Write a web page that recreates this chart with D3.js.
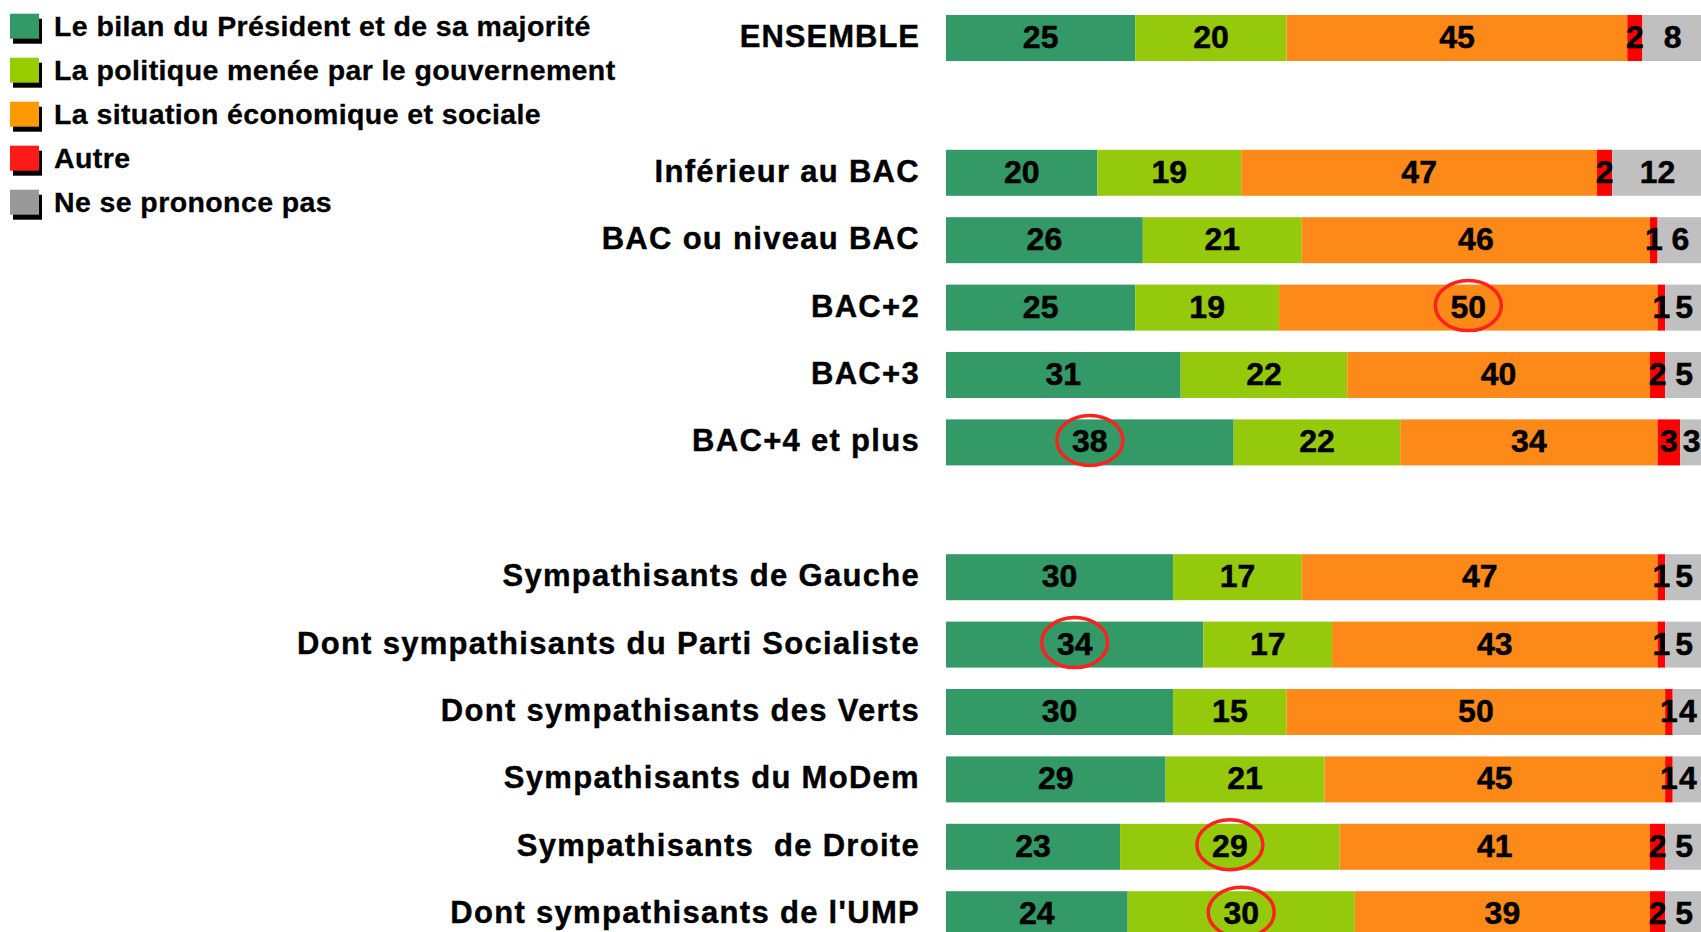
<!DOCTYPE html>
<html>
<head>
<meta charset="utf-8">
<script src="https://cdn.jsdelivr.net/npm/d3@7"></script>
<style>
  html, body { margin: 0; padding: 0; background: #ffffff; overflow: hidden; }
  svg { display: block; font-family: "Liberation Sans", Arial, sans-serif; font-weight: bold; }
  text { white-space: pre; }
</style>
</head>
<body>
<svg id="chart" width="1701" height="932"></svg>
<script>
// ---- data ----
const seriesNames = [
  "Le bilan du Président et de sa majorité",
  "La politique menée par le gouvernement",
  "La situation économique et sociale",
  "Autre",
  "Ne se prononce pas"
];
// row slots (blank strings are spacer rows)
const rowSlots = [
  "ENSEMBLE", "",
  "Inférieur au BAC", "BAC ou niveau BAC", "BAC+2", "BAC+3", "BAC+4 et plus", " ",
  "Sympathisants de Gauche", "Dont sympathisants du Parti Socialiste",
  "Dont sympathisants des Verts", "Sympathisants du MoDem",
  "Sympathisants  de Droite", "Dont sympathisants de l'UMP"
];
const categories = [
  "ENSEMBLE", "Inférieur au BAC", "BAC ou niveau BAC", "BAC+2", "BAC+3", "BAC+4 et plus",
  "Sympathisants de Gauche", "Dont sympathisants du Parti Socialiste",
  "Dont sympathisants des Verts", "Sympathisants du MoDem",
  "Sympathisants  de Droite", "Dont sympathisants de l'UMP"
];
const bilan      = [25, 20, 26, 25, 31, 38, 30, 34, 30, 29, 23, 24];
const politique  = [20, 19, 21, 19, 22, 22, 17, 17, 15, 21, 29, 30];
const situation  = [45, 47, 46, 50, 40, 34, 47, 43, 50, 45, 41, 39];
const autre      = [ 2,  2,  1,  1,  2,  3,  1,  1,  1,  1,  2,  2];
const nsp        = [ 8, 12,  6,  5,  5,  3,  5,  5,  4,  4,  5,  5];
// circled values: [category, series index]
const highlights = [
  ["BAC+2", 2],
  ["BAC+4 et plus", 0],
  ["Dont sympathisants du Parti Socialiste", 0],
  ["Sympathisants  de Droite", 1],
  ["Dont sympathisants de l'UMP", 1]
];
const barColors    = ["#339966", "#95c90c", "#fd8a18", "#ff0000", "#c0c0c0"];
const legendColors = ["#339966", "#99cc00", "#ff9900", "#ff1a1a", "#999999"];

// ---- build ----
const seriesValues = [bilan, politique, situation, autre, nsp];
const rows = categories.map((c, i) => {
  const r = { category: c };
  seriesNames.forEach((s, k) => r[s] = seriesValues[k][i]);
  return r;
});
const stack = d3.stack().keys(seriesNames)(rows);

const svg = d3.select("#chart");
const x = d3.scaleLinear().domain([0, 100]).range([946, 1703]);
const y = d3.scaleBand().domain(rowSlots).range([15, 937.2]).paddingInner(0.3175).paddingOuter(0);

// bars
const layers = svg.append("g").selectAll("g").data(stack).join("g")
  .attr("fill", (d, i) => barColors[i]);
layers.selectAll("rect").data(d => d).join("rect")
  .attr("x", d => x(d[0]))
  .attr("y", d => y(d.data.category))
  .attr("width", d => x(d[1]) - x(d[0]))
  .attr("height", y.bandwidth());

// value labels
const labels = svg.append("g");
stack.forEach((layer, k) => {
  labels.selectAll(null).data(layer).join("text")
    .attr("x", d => (x(d[0]) + x(d[1])) / 2)
    .attr("y", d => y(d.data.category) + y.bandwidth() / 2 + 10)
    .attr("text-anchor", "middle")
    .attr("font-size", "32px")
    .attr("fill", "#000")
    .attr("stroke", "#000")
    .attr("stroke-width", 0.5)
    .text(d => d[1] - d[0]);
});

// circled highlights
svg.append("g").selectAll("ellipse").data(highlights).join("ellipse")
  .attr("cx", d => {
    const seg = stack[d[1]][categories.indexOf(d[0])];
    return (x(seg[0]) + x(seg[1])) / 2;
  })
  .attr("cy", d => y(d[0]) + y.bandwidth() / 2 - 2)
  .attr("rx", 33)
  .attr("ry", 25)
  .attr("fill", "none")
  .attr("stroke", "#ff2020")
  .attr("stroke-width", 3.5);

// category labels
svg.append("g").selectAll("text").data(categories).join("text")
  .attr("x", 920)
  .attr("y", d => y(d) + y.bandwidth() / 2 + 9)
  .attr("text-anchor", "end")
  .attr("font-size", "31px")
  .attr("letter-spacing", d => d === "ENSEMBLE" ? "1px" : "1.3px")
  .attr("fill", "#000")
  .attr("stroke", "#000")
  .attr("stroke-width", 0.4)
  .text(d => d);

// legend
const ly = d3.scaleLinear().domain([0, 4]).range([35.7, 211.7]);
const leg = svg.append("g").selectAll("g").data(seriesNames).join("g")
  .attr("transform", (d, i) => `translate(0,${ly(i)})`);
leg.append("rect").attr("x", 13).attr("y", -17).attr("width", 29).attr("height", 25).attr("fill", "#000");
leg.append("rect").attr("x", 10).attr("y", -22).attr("width", 29).attr("height", 25)
  .attr("fill", (d, i) => legendColors[i]);
leg.append("text").attr("x", 54).attr("y", 0)
  .attr("font-size", "28.5px").attr("letter-spacing", "0.4px").attr("fill", "#000")
  .attr("stroke", "#000").attr("stroke-width", 0.3)
  .text(d => d);
</script>
</body>
</html>
